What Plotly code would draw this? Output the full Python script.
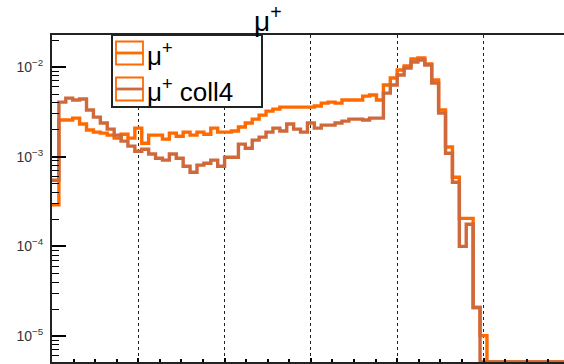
import numpy as np
import plotly.graph_objects as go

# ---------------- data ----------------
bin_width = 0.08  # x units per bin (major grid spacing = 1 unit)

mu_plus = [2.9e-4, 2.56e-3, 2.56e-3, 2.69e-3, 2.31e-3, 1.98e-3, 1.88e-3, 1.83e-3, 1.74e-3, 1.61e-3,
           1.78e-3, 1.61e-3, 2.08e-3, 1.41e-3, 1.74e-3, 1.74e-3, 1.57e-3, 1.83e-3, 1.69e-3, 1.88e-3,
           1.74e-3, 1.88e-3, 1.78e-3, 2.08e-3, 1.88e-3, 1.88e-3, 1.93e-3, 2.14e-3, 2.37e-3, 2.62e-3,
           2.91e-3, 3.22e-3, 3.39e-3, 3.57e-3, 3.57e-3, 3.57e-3, 3.57e-3, 3.57e-3, 3.67e-3, 3.96e-3,
           4.06e-3, 3.96e-3, 4.28e-3, 4.28e-3, 4.28e-3, 4.74e-3, 4.87e-3, 4.28e-3, 6.29e-3, 7.54e-3,
           9.26e-3, 1.026e-2, 1.229e-2, 1.261e-2, 1.08e-2, 7.16e-3, 3.31e-3, 1.28e-3, 5.9e-4, 2.05e-4,
           2.05e-4, 2.08e-5, 1.01e-5] + [0.0] * 12

mu_plus_coll4 = [5.46e-4, 4.06e-3, 4.50e-3, 4.28e-3, 4.39e-3, 3.31e-3, 2.76e-3, 2.37e-3, 2.03e-3, 1.74e-3,
                 1.49e-3, 1.31e-3, 1.15e-3, 1.21e-3, 1.07e-3, 9.62e-4, 9.14e-4, 1.07e-3, 9.62e-4, 7.83e-4,
                 6.71e-4, 8.04e-4, 8.46e-4, 9.14e-4, 7.83e-4, 9.87e-4, 9.87e-4, 1.38e-3, 1.24e-3, 1.53e-3,
                 1.65e-3, 1.88e-3, 2.08e-3, 1.93e-3, 2.31e-3, 2.03e-3, 1.88e-3, 2.37e-3, 2.08e-3, 2.25e-3,
                 2.25e-3, 2.37e-3, 2.49e-3, 2.62e-3, 2.62e-3, 2.56e-3, 2.69e-3, 2.69e-3, 5.12e-3, 6.29e-3,
                 8.14e-3, 9.75e-3, 1.137e-2, 1.198e-2, 1.053e-2, 6.63e-3, 3.06e-3, 1.09e-3, 5.19e-4, 1.0e-4,
                 1.76e-4, 2.08e-5, 0.0] + [0.0] * 12

series_names = ["μ<sup>+</sup>", "μ<sup>+</sup> coll4"]
title_text = "μ<sup>+</sup>"
y_major = [1e-5, 1e-4, 1e-3, 1e-2]
y_major_text = ["10<sup>−5</sup>", "10<sup>−4</sup>", "10<sup>−3</sup>", "10<sup>−2</sup>"]

# ---------------- style / layout ----------------
W, H = 564, 364
ML, MR, MT, MB = 52, 0, 35, 2
PW, PH = W - ML - MR, H - MT - MB
px_per_unit = 86.3
x_range = [0, PW / px_per_unit]
y_range = [-5.29, -1.643]

col_bright = "#ff6a00"
col_dark = "#cf693b"
font_family = "Liberation Sans, Arial, Helvetica, sans-serif"


def step_xy(vals):
    edges = np.arange(len(vals) + 1) * bin_width
    floor = 10 ** y_range[0]
    v = [max(a, floor) for a in vals]
    return edges, v + [v[-1]]


fig = go.Figure()
for vals, col, name in [(mu_plus, col_bright, series_names[0]),
                        (mu_plus_coll4, col_dark, series_names[1])]:
    xs, ys = step_xy(vals)
    fig.add_trace(go.Scatter(x=xs, y=ys, mode="lines", line=dict(color=col, width=3.4, shape="hv"),
                             name=name, showlegend=False, hoverinfo="skip"))

minor_vals = [k * 10.0 ** d for d in range(-6, -1) for k in range(2, 10)]

fig.update_layout(
    width=W, height=H,
    margin=dict(l=ML, r=MR, t=MT, b=MB),
    paper_bgcolor="white", plot_bgcolor="white",
    showlegend=False,
    font=dict(family=font_family, color="black"),
    xaxis=dict(range=x_range, showline=True, linecolor="#222222", linewidth=2, mirror=True,
               ticks="inside", ticklen=4, tickwidth=1.5, tickcolor="black", dtick=1, tick0=0,
               showticklabels=False, showgrid=True, gridcolor="#222222", griddash="dot", gridwidth=1.4,
               zeroline=False,
               minor=dict(dtick=0.25, tick0=0, ticks="inside", ticklen=3, tickwidth=1.5,
                          tickcolor="black", showgrid=False)),
    yaxis=dict(type="log", range=y_range, showline=True, linecolor="#222222", linewidth=2, mirror=False,
               ticks="inside", ticklen=14, tickwidth=1.6, tickcolor="black",
               tickmode="array", tickvals=y_major, ticktext=y_major_text,
               tickfont=dict(size=14, color="#333333"), ticklabelstandoff=4,
               showgrid=False, zeroline=False,
               minor=dict(tickmode="array", tickvals=minor_vals, ticks="inside", ticklen=7,
                          tickwidth=1.3, tickcolor="black", showgrid=False)),
)


def px2paper(px, py):
    return (px - ML) / PW, (H - MB - py) / PH


shapes = []
annotations = []
# legend box
x0, y0 = px2paper(112, 107)
x1, y1 = px2paper(262, 35)
shapes.append(dict(type="rect", xref="paper", yref="paper", x0=x0, y0=y0, x1=x1, y1=y1,
                   line=dict(color="#222222", width=2), fillcolor="white", layer="above"))
entries = [(53, col_bright, series_names[0]), (89, col_dark, series_names[1])]
for cy, col, name in entries:
    bx0, by0 = px2paper(116, cy + 11.5)
    bx1, by1 = px2paper(143, cy - 11.5)
    shapes.append(dict(type="rect", xref="paper", yref="paper", x0=bx0, y0=by0, x1=bx1, y1=by1,
                       line=dict(color=col_bright, width=1.8), fillcolor="rgba(0,0,0,0)", layer="above"))
    lx0, ly = px2paper(116, cy)
    lx1, _ = px2paper(143, cy)
    shapes.append(dict(type="line", xref="paper", yref="paper", x0=lx0, y0=ly, x1=lx1, y1=ly,
                       line=dict(color=col, width=2.8), layer="above"))
    tx, ty = px2paper(145, cy + 1)
    annotations.append(dict(xref="paper", yref="paper", x=tx, y=ty, xanchor="left", yanchor="middle",
                            text=name, showarrow=False, font=dict(size=26, color="black", family=font_family)))

# title
annotations.append(dict(xref="paper", yref="paper", x=(268 - ML) / PW, y=(H - MB - 19) / PH,
                        xanchor="center", yanchor="middle", text=title_text, showarrow=False,
                        font=dict(size=28, color="black", family=font_family)))

fig.update_layout(shapes=shapes, annotations=annotations)
fig.write_html("out.html")
